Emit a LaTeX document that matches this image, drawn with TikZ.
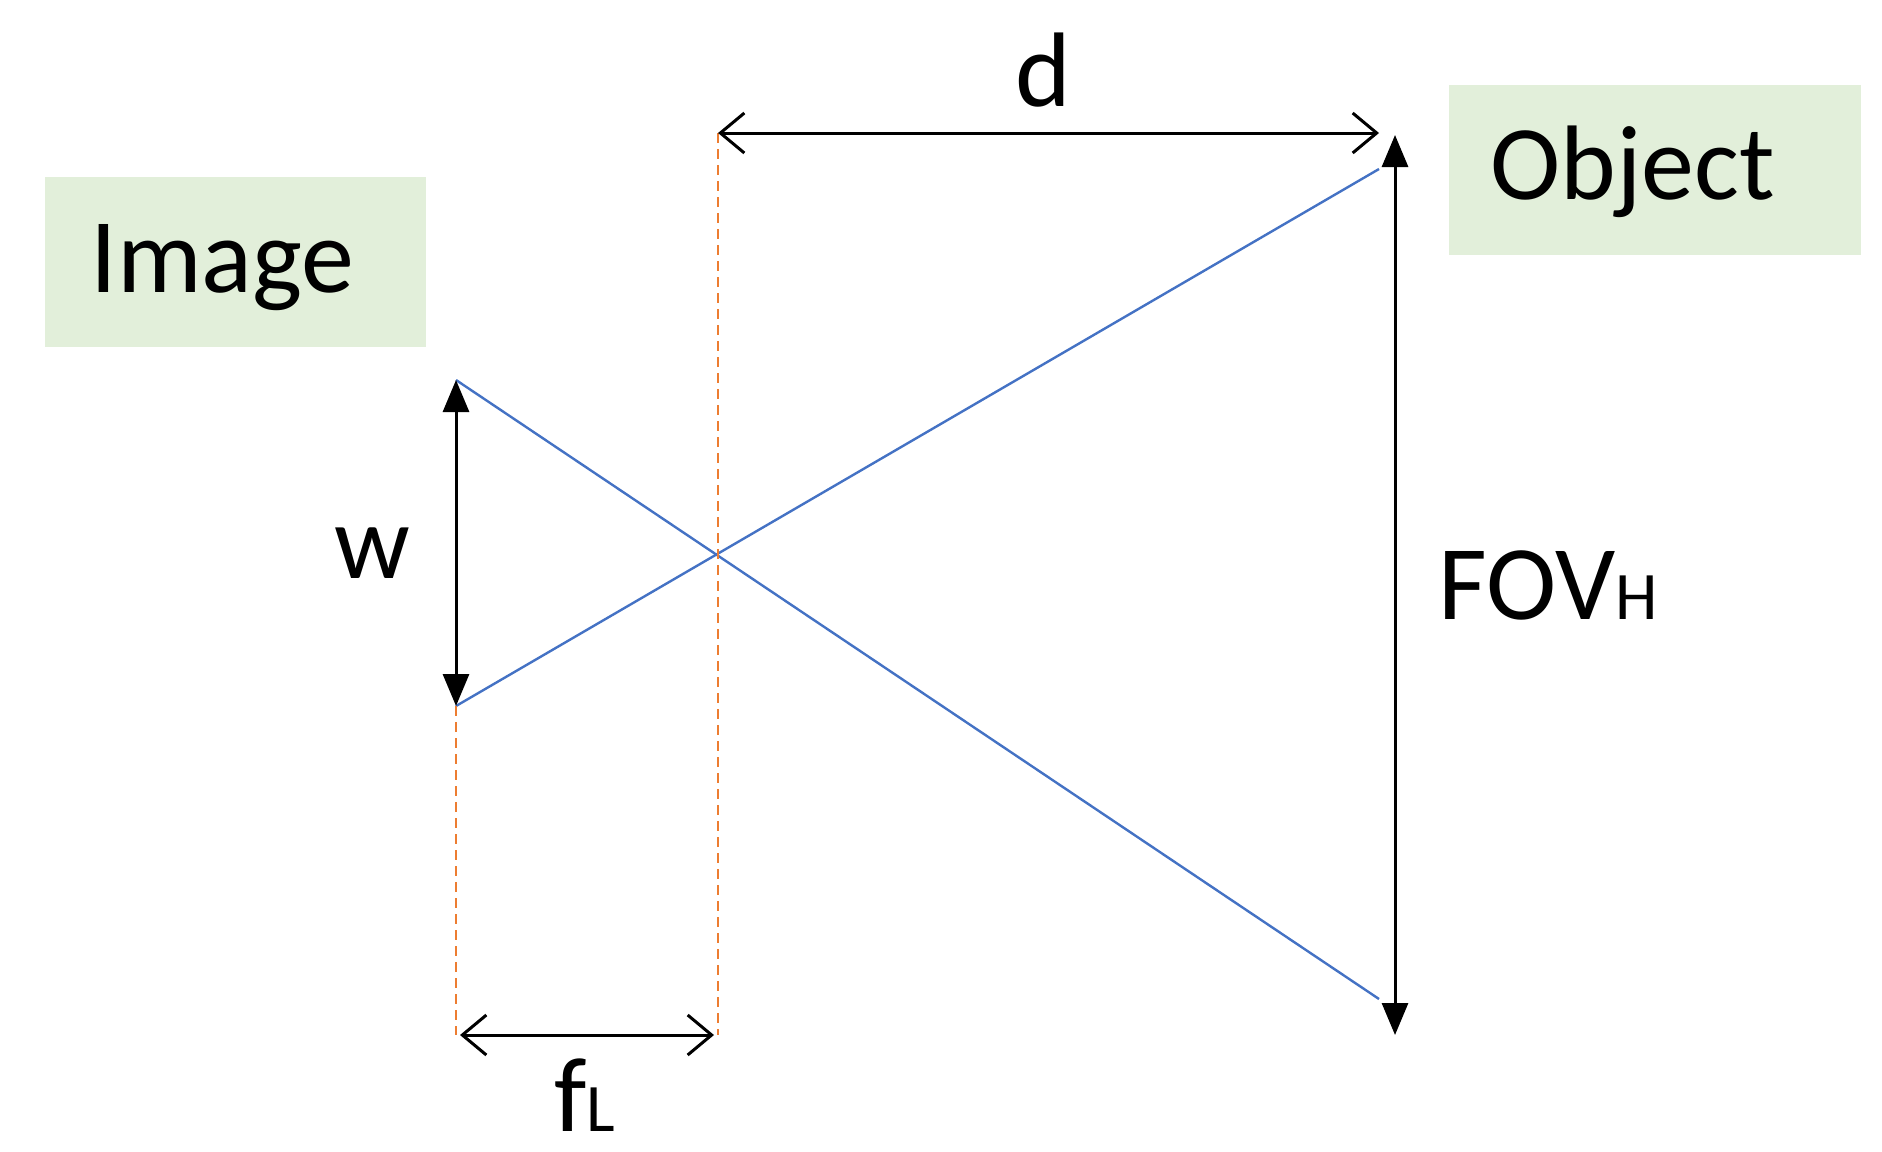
\documentclass[tikz,border=0pt]{standalone}
\usepackage{fontspec}
\setmainfont{Carlito}
\usetikzlibrary{arrows.meta}
\definecolor{boxg}{RGB}{226,239,218}
\definecolor{raycol}{RGB}{68,114,196}
\definecolor{dashcol}{RGB}{237,125,49}
\newcommand{\smallsub}[1]{{\fontsize{34}{36}\selectfont #1}}
\begin{document}
\begin{tikzpicture}[x=0.5pt,y=-0.5pt,
  lbl/.style={font=\fontsize{53}{58}\selectfont,inner sep=0},
  box/.style={fill=boxg,inner sep=0,minimum height=85pt,anchor=center},
  openarr/.style={black,line width=1.5pt,{Straight Barb[length=12pt,width=20pt,line width=1.5pt]}-{Straight Barb[length=12pt,width=20pt,line width=1.5pt]}},
  fillarr/.style={black,line width=1.5pt,{Triangle[length=16pt,width=13pt]}-{Triangle[length=16pt,width=13pt]}},
  rayl/.style={raycol,line width=1.2pt},
  dsh/.style={dashcol,line width=1.2pt,dash pattern=on 5pt off 3pt}]
\useasboundingbox (0,0) rectangle (1882,1151);
\node[box,minimum width=190.5pt] (img) at (235.5,262) {};
\node[lbl,anchor=west] at (90,268) {Image};
\node[box,minimum width=206pt] (obj) at (1655,169.5) {};
\node[lbl,anchor=west] at (1490,172) {Object};
\coordinate (i1) at (456,380);
\coordinate (i2) at (456,706);
\coordinate (o1) at (1379,169);
\coordinate (o2) at (1379,999);
\coordinate (pt) at (718,133);
\coordinate (pb) at (718,1035);
\coordinate (lb) at (456,1035);
\coordinate (ft) at (1395,135);
\coordinate (fb) at (1395,1035);
\coordinate (dr) at (1379,133);
\draw[rayl] (i1) -- (o2);
\draw[rayl] (i2) -- (o1);
\draw[dsh] (pt) -- (pb);
\draw[dsh] (i2) -- (lb);
\draw[openarr] (pt) -- (dr);
\node[lbl] (d) at (1043,70) {d};
\draw[openarr] ([xshift=2]lb) -- ([xshift=-2]pb);
\node[lbl] (f) at (585,1095) {f\smallsub{L}};
\draw[fillarr] (i1) -- (i2);
\node[lbl] (w) at (372,553) {w};
\draw[fillarr] (ft) -- (fb);
\node[lbl,anchor=west] (fov) at (1438,585) {FOV\smallsub{H}};
\end{tikzpicture}
\end{document}
